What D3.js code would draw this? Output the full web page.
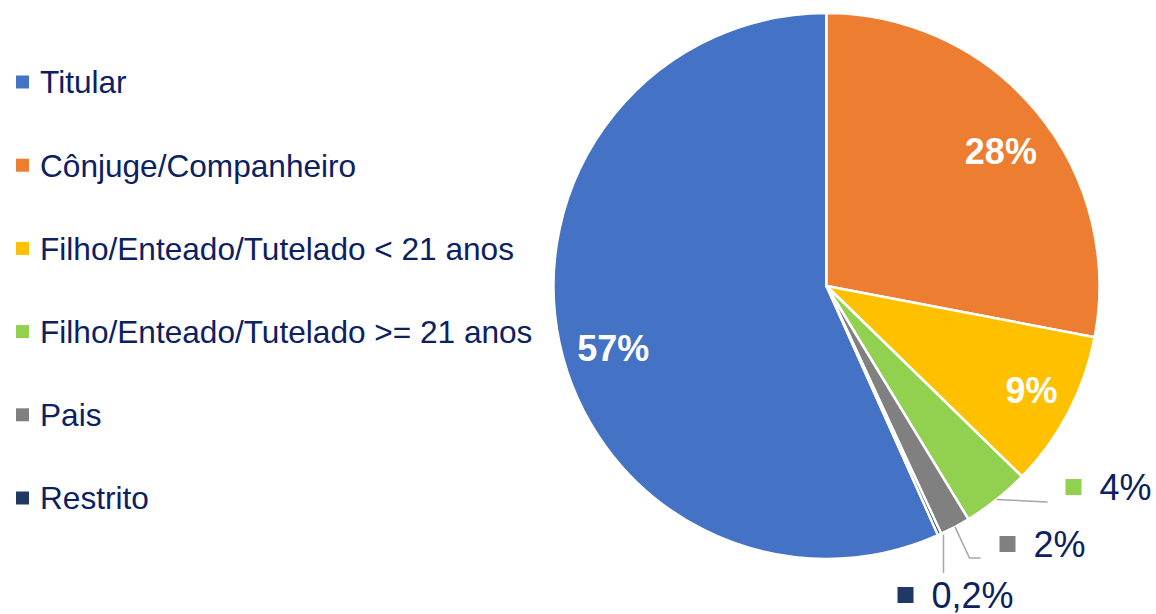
<!DOCTYPE html>
<html>
<head>
<meta charset="utf-8">
<script src="https://cdn.jsdelivr.net/npm/d3@7"></script>
<style>
  html, body { margin: 0; padding: 0; background: #ffffff; }
  svg { display: block; }
  text { font-family: "Liberation Sans", Arial, sans-serif; }
</style>
</head>
<body>
<svg id="chart" width="1156" height="614"></svg>
<script>
// ---- Data ----
const categories = [
  "Titular",
  "Cônjuge/Companheiro",
  "Filho/Enteado/Tutelado < 21 anos",
  "Filho/Enteado/Tutelado >= 21 anos",
  "Pais",
  "Restrito"
];
const values = [56.7, 28.0, 9.3, 4.0, 1.8, 0.2];
const valueLabels = ["57%", "28%", "9%", "4%", "2%", "0,2%"];
const colors = ["#4472C4", "#ED7D31", "#FFC000", "#92D050", "#808080", "#1F3864"];

// ---- Layout ----
const W = 1156, H = 614;
const cx = 826.5, cy = 286, R = 273;
const textColor = "#0B2161";

const svg = d3.select("#chart");

const data = categories.map((c, i) => ({ cat: c, value: values[i], label: valueLabels[i], color: colors[i], i }));
const total = d3.sum(values);
const a0 = 2 * Math.PI * values[0] / total;

const pie = d3.pie().sort(null).value(d => d.value)
  .startAngle(-a0).endAngle(2 * Math.PI - a0);
const arcs = pie(data);

const arc = d3.arc().innerRadius(0).outerRadius(R);

const g = svg.append("g").attr("transform", `translate(${cx},${cy})`);

g.selectAll("path.slice")
  .data(arcs)
  .join("path")
  .attr("class", "slice")
  .attr("d", arc)
  .attr("fill", d => d.data.color)
  .attr("stroke", "#ffffff")
  .attr("stroke-width", 2.5)
  .attr("stroke-linejoin", "round");

// inside labels (small nudges to follow the reference placement)
const labelArc = d3.arc().innerRadius(R * 0.81).outerRadius(R * 0.81);
const nudge = { 0: [3, 16], 1: [4, 6], 2: [9, 2] };
g.selectAll("text.inlabel")
  .data(arcs.filter(d => d.data.i <= 2))
  .join("text")
  .attr("class", "inlabel")
  .attr("transform", d => {
    const [x, y] = labelArc.centroid(d);
    const n = nudge[d.data.i];
    return `translate(${x + n[0]},${y + n[1]})`;
  })
  .attr("text-anchor", "middle")
  .attr("dy", "0.36em")
  .attr("font-size", 36)
  .attr("font-weight", "bold")
  .attr("fill", "#ffffff")
  .text(d => d.data.label);

// outside labels with leader lines (offsets relative to pie centre)
const outside = {
  3: { pts: [[221, 216]], box: [239, 193] },
  4: { pts: [[143, 272], [154, 272]], box: [173, 250] },
  5: { pts: [[117, 287]], box: [71, 301] }
};
arcs.filter(d => outside[d.data.i]).forEach(d => {
  const o = outside[d.data.i];
  const mid = (d.startAngle + d.endAngle) / 2;
  const start = [R * Math.sin(mid), -R * Math.cos(mid)];
  let pts = [start].concat(o.pts);
  if (d.data.i === 5) pts = [[o.pts[0][0], start[1]], o.pts[0]];
  g.append("path")
    .attr("d", d3.line()(pts))
    .attr("fill", "none")
    .attr("stroke", "#A6A6A6")
    .attr("stroke-width", 1.5);
  g.append("rect")
    .attr("x", o.box[0]).attr("y", o.box[1])
    .attr("width", 16).attr("height", 16)
    .attr("fill", d.data.color);
  g.append("text")
    .attr("x", o.box[0] + 34)
    .attr("y", o.box[1] + 8)
    .attr("dy", "0.36em")
    .attr("font-size", 36)
    .attr("fill", textColor)
    .text(d.data.label);
});

// legend
const legendY = d3.scalePoint().domain(categories).range([82, 498]);
const lg = svg.append("g");
const items = lg.selectAll("g.item").data(data).join("g")
  .attr("class", "item")
  .attr("transform", d => `translate(0,${legendY(d.cat)})`);
items.append("rect")
  .attr("x", 16).attr("y", -6.5)
  .attr("width", 13).attr("height", 13)
  .attr("fill", d => d.color);
items.append("text")
  .attr("x", 40).attr("y", 0)
  .attr("dy", "0.36em")
  .attr("font-size", 31.6)
  .attr("fill", textColor)
  .text(d => d.cat);
</script>
</body>
</html>
